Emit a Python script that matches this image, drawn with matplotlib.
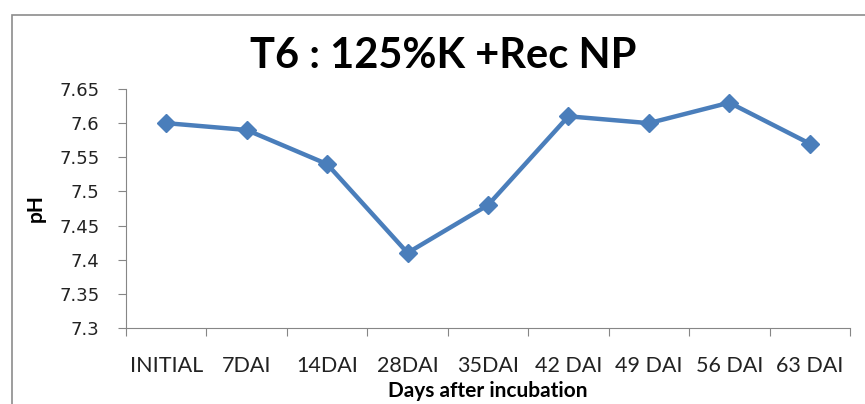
import matplotlib.pyplot as plt
from matplotlib.patches import Rectangle

# data
days = ['INITIAL', '7DAI', '14DAI', '28DAI', '35DAI', '42 DAI', '49 DAI', '56 DAI', '63 DAI']
ph = [7.60, 7.59, 7.54, 7.41, 7.48, 7.61, 7.60, 7.63, 7.57]
y_ticks = [7.3, 7.35, 7.4, 7.45, 7.5, 7.55, 7.6, 7.65]
y_labels = ['7.3', '7.35', '7.4', '7.45', '7.5', '7.55', '7.6', '7.65']

fig = plt.figure(figsize=(8.65, 4.04), dpi=100)
ax = fig.add_axes([126 / 865, 1 - 328 / 404, 724 / 865, 239 / 404])

# outer chart frame (like excel)
fig.patches.append(Rectangle((12 / 865, -0.1), 1.2, 1.1 - 15 / 404,
                             transform=fig.transFigure, fill=False,
                             edgecolor='#8c8c8c', linewidth=1.2))

x = list(range(len(days)))
ax.plot(x, ph, color='#4a7ebb', linewidth=3.2, marker='D', markersize=9,
        markerfacecolor='#4a7ebb', markeredgecolor='#4a7ebb')

ax.set_xlim(-0.5, len(days) - 0.5)
ax.set_ylim(7.3, 7.65)

for s in ['top', 'right']:
    ax.spines[s].set_visible(False)
for s in ['left', 'bottom']:
    ax.spines[s].set_color('#868686')

ax.set_yticks(y_ticks)
ax.set_yticklabels(y_labels, family='DejaVu Sans', fontsize=13, color='#222222')
ax.tick_params(axis='y', length=6, color='#868686', pad=13)

# ticks between categories, labels at centres
ax.set_xticks([i - 0.5 for i in range(len(days) + 1)])
ax.set_xticklabels([])
ax.tick_params(axis='x', which='major', length=6, color='#868686')
ax.set_xticks(x, minor=True)
ax.set_xticklabels(days, minor=True, family='Lato', fontsize=15.5, color='#222222')
ax.tick_params(axis='x', which='minor', length=0, pad=20)

ax.set_xlabel('Days after incubation', family='Lato', fontweight='bold',
              fontsize=15, labelpad=4)
ax.set_ylabel('pH', family='Lato', fontweight='bold', fontsize=15, labelpad=10)

fig.text(443 / 865, 1 - 56 / 404, 'T6 : 125%K +Rec NP', family='Lato',
         fontweight='bold', fontsize=30, ha='center', va='center')

fig.savefig('out.png', dpi=100)
